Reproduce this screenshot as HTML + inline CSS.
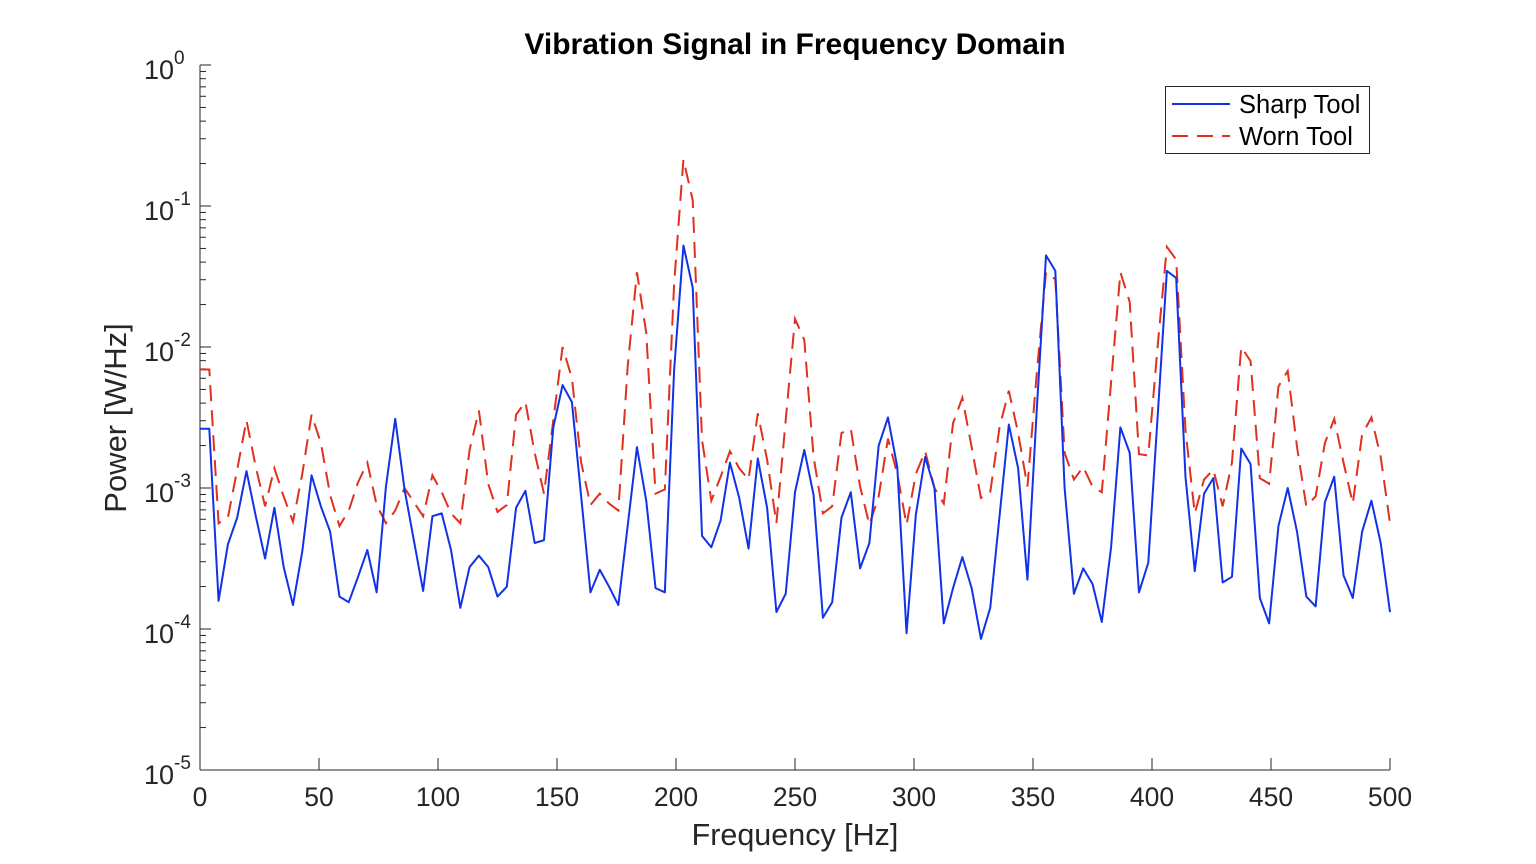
<!DOCTYPE html>
<html><head><meta charset="utf-8"><style>
body{margin:0;background:#fff;}
svg{display:block;font-family:"Liberation Sans",sans-serif;}
</style></head><body>
<svg id="chart" width="1536" height="864" viewBox="0 0 1536 864" xmlns="http://www.w3.org/2000/svg">
<rect width="1536" height="864" fill="#fff"/>
<text x="795" y="54" text-anchor="middle" font-size="30" font-weight="bold" fill="#000">Vibration Signal in Frequency Domain</text>
<g id="axes"></g>
<g id="series"></g>
<text x="795" y="845" text-anchor="middle" font-size="30.5" fill="#262626">Frequency [Hz]</text>
<text transform="translate(126,418) rotate(-90)" text-anchor="middle" font-size="31" fill="#262626">Power [W/Hz]</text>
<g>
<rect x="1165.5" y="86.5" width="204" height="67" fill="#fff" stroke="#262626" stroke-width="1"/>
<line x1="1172" y1="104" x2="1230" y2="104" stroke="#1132e6" stroke-width="2"/>
<text x="1239" y="113" font-size="25.5" fill="#000">Sharp Tool</text>
<line x1="1172" y1="136" x2="1230" y2="136" stroke="#e0301e" stroke-width="2" stroke-dasharray="16,9"/>
<text x="1239" y="145" font-size="25.5" fill="#000">Worn Tool</text>
</g>
</svg>
<script>
// log10 of power (W/Hz), 129 bins from 0 to 500 Hz
const sharpLog10 = [-2.58,-2.58,-3.80,-3.40,-3.21,-2.88,-3.20,-3.50,-3.14,-3.56,-3.83,-3.45,-2.91,-3.13,-3.31,-3.77,-3.81,-3.63,-3.44,-3.74,-2.99,-2.51,-3.01,-3.37,-3.73,-3.20,-3.18,-3.44,-3.85,-3.56,-3.48,-3.56,-3.77,-3.70,-3.14,-3.02,-3.39,-3.37,-2.57,-2.27,-2.39,-3.06,-3.74,-3.58,-3.70,-3.83,-3.27,-2.71,-3.09,-3.71,-3.74,-2.16,-1.28,-1.58,-3.34,-3.42,-3.23,-2.82,-3.07,-3.43,-2.79,-3.14,-3.88,-3.75,-3.03,-2.73,-3.05,-3.92,-3.81,-3.21,-3.03,-3.57,-3.39,-2.70,-2.50,-2.85,-4.03,-3.19,-2.78,-3.00,-3.96,-3.71,-3.49,-3.71,-4.07,-3.85,-3.20,-2.55,-2.86,-3.65,-2.45,-1.35,-1.46,-3.00,-3.75,-3.57,-3.68,-3.95,-3.42,-2.57,-2.75,-3.74,-3.53,-2.50,-1.46,-1.51,-2.92,-3.59,-3.04,-2.93,-3.67,-3.63,-2.72,-2.83,-3.78,-3.96,-3.27,-3.00,-3.31,-3.77,-3.84,-3.10,-2.92,-3.62,-3.78,-3.31,-3.09,-3.39,-3.88];
const wornLog10 = [-2.16,-2.16,-3.25,-3.21,-2.87,-2.52,-2.85,-3.13,-2.86,-3.06,-3.24,-2.90,-2.48,-2.68,-3.05,-3.27,-3.16,-2.96,-2.82,-3.12,-3.25,-3.16,-3.00,-3.10,-3.20,-2.91,-3.03,-3.18,-3.25,-2.73,-2.45,-2.97,-3.17,-3.12,-2.48,-2.39,-2.75,-3.04,-2.52,-2.00,-2.22,-2.82,-3.12,-3.04,-3.11,-3.16,-2.14,-1.47,-1.90,-3.04,-3.01,-1.55,-0.67,-0.96,-2.66,-3.09,-2.92,-2.74,-2.86,-2.94,-2.47,-2.80,-3.25,-2.52,-1.80,-1.95,-2.78,-3.18,-3.13,-2.61,-2.58,-2.99,-3.26,-3.06,-2.65,-2.90,-3.26,-2.90,-2.74,-3.00,-3.11,-2.54,-2.36,-2.71,-3.07,-3.03,-2.57,-2.31,-2.61,-2.99,-2.19,-1.47,-1.52,-2.75,-2.94,-2.85,-2.99,-3.03,-2.25,-1.47,-1.68,-2.76,-2.77,-2.00,-1.29,-1.38,-2.59,-3.18,-2.94,-2.87,-3.13,-2.82,-2.00,-2.10,-2.93,-2.97,-2.28,-2.17,-2.71,-3.13,-3.06,-2.68,-2.51,-2.82,-3.11,-2.62,-2.50,-2.78,-3.25];
const xTicks = [0,50,100,150,200,250,300,350,400,450,500];
const yTickExps = [0,-1,-2,-3,-4,-5];
const fMax = 500;

const NS = 'http://www.w3.org/2000/svg';
const X0 = 200, X1 = 1390, Y0 = 65, Y1 = 770;
function xScale(f){ return X0 + (f / fMax) * (X1 - X0); }
function yScale(lg){ return Y0 + (0 - lg) / 5 * (Y1 - Y0); }
function mk(tag, attrs, parent){ const e = document.createElementNS(NS, tag); for (const k in attrs) e.setAttribute(k, attrs[k]); parent.appendChild(e); return e; }

const axes = document.getElementById('axes');
const yAxis = mk('line', {x1:X0, y1:Y0, x2:X0, y2:Y1, stroke:'#262626', 'stroke-width':1}, axes);


const xAxis = mk('line', {x1:X0, y1:Y1, x2:X1, y2:Y1, stroke:'#262626', 'stroke-width':1}, axes);



xTicks.forEach(v => {
  const x = xScale(v);
  const t = mk('line', {x1:x, y1:Y1, x2:x, y2:Y1-12, stroke:'#262626', 'stroke-width':1}, axes);
  
  
  const l = mk('text', {x:x, y:806, 'text-anchor':'middle', 'font-size':26.5, fill:'#262626'}, axes);
  l.textContent = v;
  
  
});

yTickExps.forEach(e => {
  const y = yScale(e);
  const t = mk('line', {x1:X0, y1:y, x2:X0+11, y2:y, stroke:'#262626', 'stroke-width':1}, axes);
  
  
  const l = mk('text', {x:144, y:y+14, 'font-size':27, fill:'#262626'}, axes);
  
  
  const base = mk('tspan', {}, l); base.textContent = '10';
  const sup = mk('tspan', {dy:-15, 'font-size':19}, l); sup.textContent = String(e);
  if (e > -5) {
    for (let m = 2; m <= 9; m++) {
      const ym = yScale(e - 1 + Math.log10(m));
      const mt = mk('line', {x1:X0, y1:ym, x2:X0+6, y2:ym, stroke:'#262626', 'stroke-width':1}, axes);
      
      
    }
  }
});

const series = document.getElementById('series');
function pts(arr){ return arr.map((v,i) => xScale(i * fMax / (arr.length - 1)).toFixed(2) + ',' + yScale(v).toFixed(2)).join(' '); }
const worn = mk('polyline', {points:pts(wornLog10), fill:'none', stroke:'#e0301e', 'stroke-width':2, 'stroke-dasharray':'16,9'}, series);


const sharp = mk('polyline', {points:pts(sharpLog10), fill:'none', stroke:'#1132e6', 'stroke-width':2, 'stroke-linejoin':'round'}, series);


</script>
</body></html>
